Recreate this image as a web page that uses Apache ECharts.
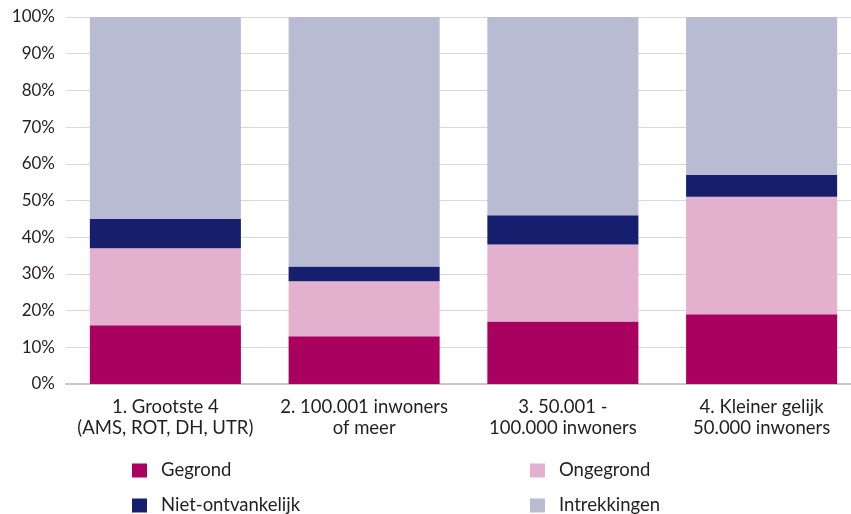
<!DOCTYPE html>
<html>
<head>
<meta charset="utf-8">
<script src="https://cdn.jsdelivr.net/npm/echarts@6/dist/echarts.min.js"></script>
<style>
  html, body { margin: 0; padding: 0; background: #fff; }
  #chart { width: 851px; height: 514px; }
</style>
</head>
<body>
<div id="chart"></div>
<script>
const categories = [
  "1. Grootste 4\n(AMS, ROT, DH, UTR)",
  "2. 100.001 inwoners\nof meer",
  "3. 50.001 -\n100.000 inwoners",
  "4. Kleiner gelijk\n50.000 inwoners",
];
const gegrond = [16, 13, 17, 19];
const ongegrond = [21, 15, 21, 32];
const nietOntvankelijk = [8, 4, 8, 6];
const intrekkingen = [55, 68, 54, 43];

const font = "Lato, 'Open Sans', sans-serif";
const textColor = "#231f20";

const chart = echarts.init(document.getElementById("chart"));

function barSeries(name, data, color) {
  return {
    name: name,
    type: "bar",
    stack: "total",
    barWidth: "76%",
    itemStyle: { color: color },
    emphasis: { disabled: true },
    data: data,
  };
}

// one legend per item so the 2x2 layout is exact
function legendItem(name, left, top) {
  return {
    left: left,
    top: top,
    padding: 0,
    itemWidth: 15,
    itemHeight: 14,
    icon: "rect",
    textStyle: { color: textColor, fontSize: 18.5, lineHeight: 16, fontFamily: font, padding: [0, 0, 0, 9] },
    data: [name],
  };
}

const option = {
  animation: false,
  textStyle: { fontFamily: font },
  grid: { left: 66, top: 17, right: -10, bottom: 130, outerBoundsMode: "none" },
  xAxis: {
    type: "category",
    data: categories,
    axisTick: { show: false },
    axisLine: { lineStyle: { color: "#c8c8c8", width: 2 } },
    axisLabel: {
      interval: 0,
      color: textColor,
      fontSize: 18.5,
      lineHeight: 21,
      margin: 13,
      fontFamily: font,
    },
  },
  yAxis: {
    type: "value",
    min: 0,
    max: 100,
    interval: 10,
    axisLine: { show: false },
    axisTick: { show: false },
    splitLine: { lineStyle: { color: "#d9d9d9", width: 1 } },
    axisLabel: {
      color: textColor,
      fontSize: 17,
      margin: 11,
      fontFamily: font,
      formatter: (v) => v + "%",
    },
  },
  legend: [
    legendItem("Gegrond", 132, 461),
    legendItem("Niet-ontvankelijk", 132, 496),
    legendItem("Ongegrond", 530, 461),
    legendItem("Intrekkingen", 530, 496),
  ],
  series: [
    barSeries("Gegrond", gegrond, "#aa0060"),
    barSeries("Ongegrond", ongegrond, "#e3b1ce"),
    barSeries("Niet-ontvankelijk", nietOntvankelijk, "#161f6e"),
    barSeries("Intrekkingen", intrekkingen, "#b9bbd3"),
  ],
};

chart.setOption(option);
</script>
</body>
</html>
